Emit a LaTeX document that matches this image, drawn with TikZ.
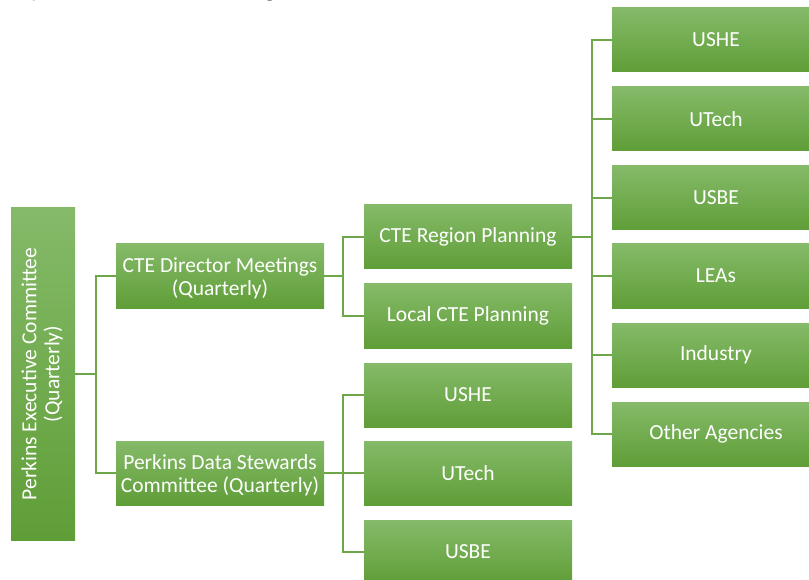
\documentclass[tikz,border=0pt]{standalone}
\usepackage{fontspec}
\setmainfont{Carlito}
\definecolor{gtop}{HTML}{85BA69}
\definecolor{gmid}{HTML}{71AE47}
\definecolor{gbot}{HTML}{5F9E37}
\definecolor{lcol}{HTML}{6EA64A}
\begin{document}
\begin{tikzpicture}[x=1pt,y=-1pt,
  box/.style={rectangle, minimum width=208pt, minimum height=64pt, inner sep=0pt,
    top color=gtop, middle color=gmid, bottom color=gbot, text=white,
    font=\fontsize{21.5}{24}\selectfont, align=center},
  link/.style={draw=lcol, line width=1.5pt},
  frag/.style={font=\fontsize{26}{30}\selectfont, text=black, inner sep=0pt, anchor=base}]
\useasboundingbox (0,0) rectangle (809,580);
\clip (0,0) rectangle (809,580);
% clipped fragments of a title above the picture
\node[frag] (fy) at (36,-3) {y};
\node[frag] (fg) at (270,-3) {g};
% root
\node[box, minimum width=64pt, minimum height=332pt] (root) at (43,374)
  {\rotatebox{90}{\begin{tabular}{@{}c@{}}Perkins Executive Committee\\[-1pt](Quarterly)\end{tabular}}};
% level 2
\node[box] (dir) at (220,276) {\begin{tabular}{@{}c@{}}\rule{0pt}{22.8pt}CTE Director Meetings\\[-1pt](Quarterly)\end{tabular}};
\node[box] (data) at (220,473) {\begin{tabular}{@{}c@{}}\rule{0pt}{22.8pt}Perkins Data Stewards\\[-1pt]Committee (Quarterly)\end{tabular}};
% level 3
\node[box] (region) at (468,237) {CTE Region Planning};
\node[box] (local) at (468,316) {Local CTE Planning};
\node[box] (usheB) at (468,395) {USHE};
\node[box] (utechB) at (468,473) {UTech};
\node[box] (usbeB) at (468,552) {USBE};
% level 4
\node[box] (usheA) at (716,40) {USHE};
\node[box] (utechA) at (716,119) {UTech};
\node[box] (usbeA) at (716,198) {USBE};
\node[box] (leas) at (716,276) {LEAs};
\node[box] (ind) at (716,355) {Industry};
\node[box] (other) at (716,434) {Other Agencies};
% connectors
\foreach \t in {dir,data}
  \draw[link] (root.east) -- ++(21,0) |- (\t.west);
\foreach \t in {region,local}
  \draw[link] (dir.east) -- ++(19,0) |- (\t.west);
\foreach \t in {usheB,utechB,usbeB}
  \draw[link] (data.east) -- ++(19,0) |- (\t.west);
\foreach \t in {usheA,utechA,usbeA,leas,ind,other}
  \draw[link] (region.east) -- ++(20,0) |- (\t.west);
\end{tikzpicture}
\end{document}
